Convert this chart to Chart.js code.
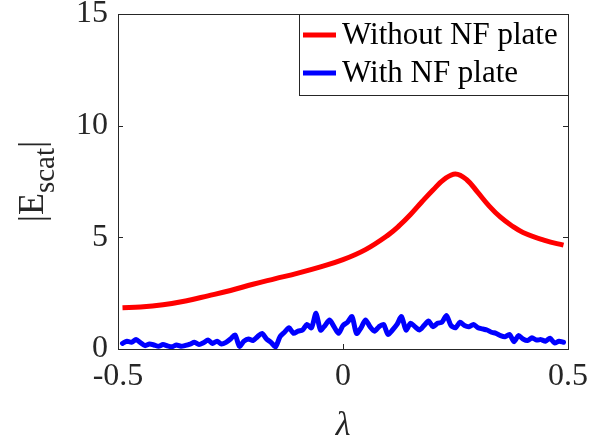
<!DOCTYPE html>
<html>
<head>
<meta charset="utf-8">
<script src="https://cdn.jsdelivr.net/npm/chart.js@4/dist/chart.umd.min.js"></script>
<style>
html,body{margin:0;padding:0;background:#fff;}
canvas{display:block;}
</style>
</head>
<body>
<canvas id="c" width="604" height="441"></canvas>
<script>
// ---- data ----
const seriesLabels = ['Without NF plate', 'With NF plate'];
const xTicks = [-0.5, 0, 0.5];
const yTicks = [0, 5, 10, 15];

const redX = [-0.49, -0.45, -0.40, -0.35, -0.30, -0.25, -0.20, -0.15, -0.10, -0.05, 0.00, 0.05, 0.10, 0.125, 0.15, 0.175, 0.20, 0.225, 0.25, 0.275, 0.30, 0.325, 0.35, 0.375, 0.40, 0.45, 0.49];
const redY = [1.85, 1.88, 1.98, 2.15, 2.38, 2.62, 2.90, 3.15, 3.40, 3.68, 4.00, 4.45, 5.10, 5.52, 6.02, 6.58, 7.12, 7.60, 7.84, 7.58, 7.00, 6.40, 5.90, 5.52, 5.22, 4.85, 4.65];

const blueX = [-0.49,-0.48,-0.47,-0.46,-0.45,-0.44,-0.43,-0.42,-0.41,-0.40,
  -0.39,-0.38,-0.37,-0.36,-0.35,-0.34,-0.33,-0.32,-0.31,-0.30,
  -0.29,-0.28,-0.27,-0.26,-0.25,-0.24,-0.23,-0.22,-0.21,-0.20,
  -0.19,-0.18,-0.17,-0.16,-0.15,-0.14,-0.13,-0.12,-0.11,-0.10,
  -0.09,-0.08,-0.07,-0.06,-0.05,-0.04,-0.03,-0.02,-0.01,0.00,
  0.01,0.02,0.03,0.04,0.05,0.06,0.07,0.08,0.09,0.10,
  0.11,0.12,0.13,0.14,0.15,0.16,0.17,0.18,0.19,0.20,
  0.21,0.22,0.23,0.24,0.25,0.26,0.27,0.28,0.29,0.30,
  0.31,0.32,0.33,0.34,0.35,0.36,0.37,0.38,0.39,0.40,
  0.41,0.42,0.43,0.44,0.45,0.46,0.47,0.48,0.49];
const blueY = [0.25,0.35,0.30,0.42,0.28,0.15,0.22,0.18,0.12,0.20,
  0.14,0.10,0.18,0.12,0.16,0.22,0.30,0.20,0.28,0.40,
  0.25,0.35,0.22,0.30,0.45,0.63,0.12,0.35,0.45,0.38,
  0.55,0.70,0.45,0.30,0.10,0.55,0.75,0.95,0.70,0.80,
  0.85,1.10,0.95,1.60,0.85,1.05,1.30,1.00,0.70,1.05,
  1.20,1.45,0.70,0.95,1.30,1.00,0.80,1.00,1.10,0.65,
  0.85,1.10,1.45,0.85,1.15,1.00,0.85,1.05,1.25,1.00,
  1.15,1.20,1.50,1.05,0.95,1.20,1.05,1.00,1.10,0.95,
  0.90,0.85,0.75,0.70,0.60,0.55,0.65,0.33,0.60,0.45,
  0.38,0.50,0.40,0.42,0.35,0.48,0.27,0.35,0.30];

// ---- chart ----
const FONT = "'Liberation Serif', 'Times New Roman', serif";
const AXIS = '#262626';

const boxPlugin = {
  id: 'matlabBox',
  afterDatasetsDraw(chart) {
    const {ctx, chartArea: a, scales} = chart;
    ctx.save();
    // box
    ctx.strokeStyle = AXIS;
    ctx.lineWidth = 1;
    ctx.strokeRect(Math.round(a.left) + 0.5, Math.round(a.top) + 0.5, Math.round(a.right - a.left), Math.round(a.bottom - a.top));
    // inward ticks
    const tl = 5;
    ctx.beginPath();
    xTicks.forEach(v => {
      const px = Math.round(scales.x.getPixelForValue(v)) + 0.5;
      ctx.moveTo(px, a.bottom); ctx.lineTo(px, a.bottom - tl);
      ctx.moveTo(px, a.top); ctx.lineTo(px, a.top + tl);
    });
    yTicks.forEach(v => {
      const py = Math.round(scales.y.getPixelForValue(v)) + 0.5;
      ctx.moveTo(a.left, py); ctx.lineTo(a.left + tl, py);
      ctx.moveTo(a.right, py); ctx.lineTo(a.right - tl, py);
    });
    ctx.stroke();

    // legend
    const lx = 299, ly = Math.round(a.top), lw = Math.round(a.right) - 299, lh = 81;
    ctx.fillStyle = '#fff';
    ctx.fillRect(lx + 0.5, ly + 0.5, lw, lh);
    ctx.strokeStyle = AXIS;
    ctx.strokeRect(lx + 0.5, ly + 0.5, lw, lh);
    const rows = [ly + 21, ly + 59];
    chart.data.datasets.forEach((ds, i) => {
      ctx.strokeStyle = ds.borderColor;
      ctx.lineWidth = 5;
      ctx.beginPath();
      ctx.moveTo(303, rows[i]); ctx.lineTo(336, rows[i]);
      ctx.stroke();
      ctx.fillStyle = '#000';
      ctx.font = '31px ' + FONT;
      ctx.textBaseline = 'middle';
      ctx.textAlign = 'left';
      ctx.fillText(ds.label, 342, rows[i] + 1);
    });

    // x title
    ctx.fillStyle = AXIS;
    ctx.font = 'italic 34px ' + FONT;
    ctx.textAlign = 'center';
    ctx.textBaseline = 'alphabetic';
    ctx.fillText('\u03bb', (a.left + a.right) / 2, 435);

    // y title |E_scat|
    ctx.save();
    const cy = (a.top + a.bottom) / 2;
    ctx.translate(43, cy);
    ctx.rotate(-Math.PI / 2);
    const mainF = '36px ' + FONT, subF = '29px ' + FONT;
    ctx.font = mainF; const w1 = ctx.measureText('|E').width; const w3 = ctx.measureText('|').width;
    ctx.font = subF; const w2 = ctx.measureText('scat').width;
    let x0 = -(w1 + w2 + w3) / 2;
    ctx.textAlign = 'left';
    ctx.textBaseline = 'alphabetic';
    ctx.font = mainF; ctx.fillText('|E', x0, 0);
    ctx.font = subF; ctx.fillText('scat', x0 + w1, 11);
    ctx.font = mainF; ctx.fillText('|', x0 + w1 + w2, 0);
    ctx.restore();
    ctx.restore();
  }
};

new Chart(document.getElementById('c'), {
  type: 'line',
  data: {
    datasets: [
      {
        label: seriesLabels[0],
        data: redX.map((x, i) => ({x, y: redY[i]})),
        borderColor: '#ff0000',
        borderWidth: 5,
        pointRadius: 0,
        tension: 0.4,
        fill: false
      },
      {
        label: seriesLabels[1],
        data: blueX.map((x, i) => ({x, y: blueY[i]})),
        borderColor: '#0000ff',
        borderWidth: 5,
        borderJoinStyle: 'round',
        borderCapStyle: 'round',
        pointRadius: 0,
        tension: 0.25,
        fill: false
      }
    ]
  },
  options: {
    responsive: false,
    animation: false,
    devicePixelRatio: 1,
    layout: {padding: {top: 14, right: 36, left: 0, bottom: 0}},
    plugins: {legend: {display: false}, tooltip: {enabled: false}},
    scales: {
      x: {
        type: 'linear', min: -0.5, max: 0.5,
        afterBuildTicks: s => { s.ticks = xTicks.map(v => ({value: v})); },
        afterFit: s => { s.height = 92; s.paddingLeft = 0; s.paddingRight = 0; },
        grid: {display: false, drawTicks: false},
        border: {display: false},
        ticks: {padding: 8, color: AXIS, font: {family: FONT, size: 32}, maxRotation: 0,
          callback: v => v === 0 ? '0' : String(v)}
      },
      y: {
        type: 'linear', min: 0, max: 15,
        afterBuildTicks: s => { s.ticks = yTicks.map(v => ({value: v})); },
        afterFit: s => { s.width = 118; s.paddingTop = 0; s.paddingBottom = 0; },
        grid: {display: false, drawTicks: false},
        border: {display: false},
        ticks: {padding: 10, color: AXIS, font: {family: FONT, size: 32}}
      }
    }
  },
  plugins: [boxPlugin]
});
</script>
</body>
</html>
